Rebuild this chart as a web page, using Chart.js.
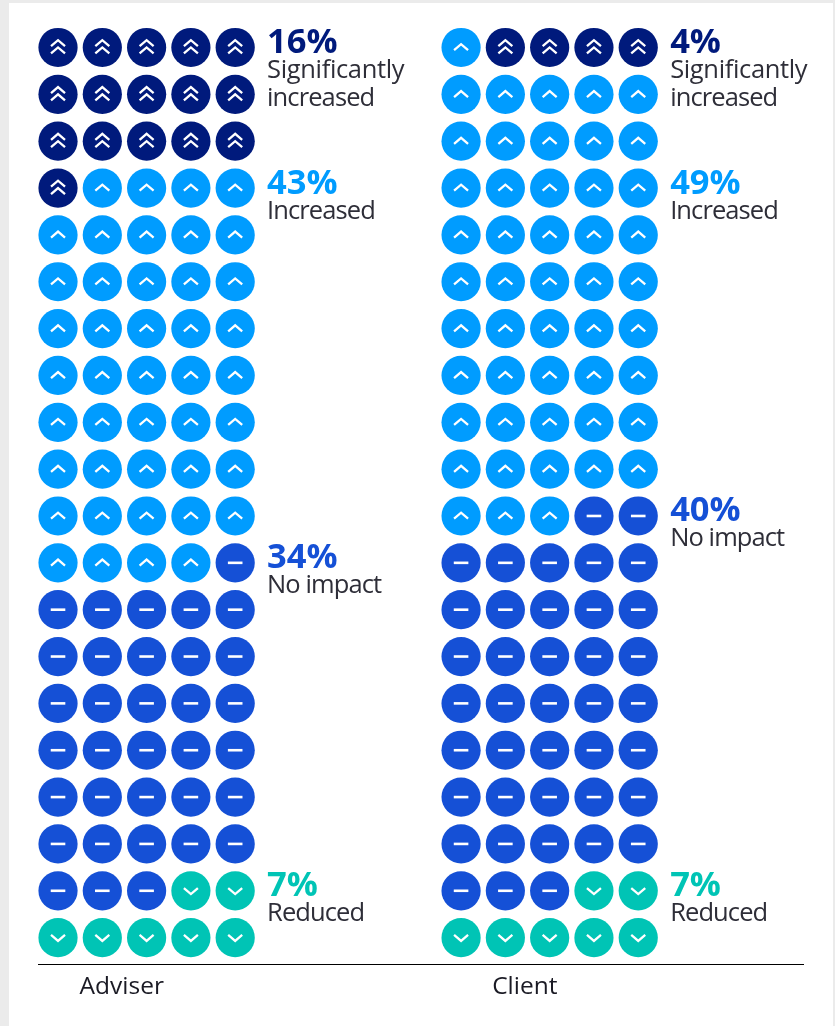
<!DOCTYPE html>
<html>
<head>
<meta charset="utf-8">
<style>
  html, body { margin: 0; padding: 0; background: #ebebeb; height: 100%; overflow: hidden; }
  #sheet { position: absolute; left: 9px; top: 3px; width: 824px; height: 1023px; background: #fff; }
  #wrap { position: absolute; left: 0; top: 0; width: 835px; height: 1026px; }
</style>
<script src="https://cdn.jsdelivr.net/npm/chart.js@4"></script>
</head>
<body>
<div id="sheet"></div>
<div id="wrap"><canvas id="chart"></canvas></div>
<script>
const categories = ['Significantly increased', 'Increased', 'No impact', 'Reduced'];
const groups = ['Adviser', 'Client'];
const adviserValues = [16, 43, 34, 7];
const clientValues = [4, 49, 40, 7];
// Client's top row opens with one "Increased" dot ahead of the dark ones.
const clientLeadingIncreased = 1;
const categoryColors = ['#001a7c', '#009cff', '#1550d6', '#00c4b5'];
const categoryGlyphs = ['double', 'up', 'dash', 'down'];
const adviserLabelRows = [0, 3, 11, 18];
const clientLabelRows = [0, 3, 10, 18];
const labelLines = [['Significantly', 'increased'], ['Increased'], ['No impact'], ['Reduced']];

const COLUMNS = 5;
const GROUP_OFFSET = 9.1;      // column units between the two waffles
const LABEL_COLUMN = 4.72;     // where the side labels start, relative to a waffle
const GROUP_LABEL_COLUMN = 1.44;

// Turn category counts into dot lists, filling left to right, top to bottom.
function fillOrder(values, leading) {
  const seq = [];
  if (leading) for (let i = 0; i < leading; i++) seq.push(1);
  values.forEach((v, c) => {
    const n = c === 1 ? v - (leading || 0) : v;
    for (let i = 0; i < n; i++) seq.push(c);
  });
  return seq;
}

const points = categories.map(() => []);
function place(seq, offset) {
  seq.forEach((c, i) => {
    points[c].push({ x: offset + (i % COLUMNS), y: Math.floor(i / COLUMNS) });
  });
}
place(fillOrder(adviserValues, 0), 0);
place(fillOrder(clientValues, clientLeadingIncreased), GROUP_OFFSET);

function drawGlyph(ctx, kind, x, y) {
  ctx.save();
  ctx.strokeStyle = '#fff';
  ctx.lineWidth = 2.3;
  ctx.lineCap = 'butt';
  ctx.lineJoin = 'miter';
  const chev = (cy, dir, hw, h) => {
    ctx.beginPath();
    ctx.moveTo(x - hw, cy + dir * h / 2);
    ctx.lineTo(x, cy - dir * h / 2);
    ctx.lineTo(x + hw, cy + dir * h / 2);
    ctx.stroke();
  };
  if (kind === 'double') { chev(y - 4.3, 1, 7, 6); chev(y + 3, 1, 7, 6); }
  if (kind === 'up') chev(y - 0.3, 1, 7, 6);
  if (kind === 'down') chev(y + 0.3, -1, 7, 6);
  if (kind === 'dash') {
    ctx.lineWidth = 2.6;
    ctx.beginPath();
    ctx.moveTo(x - 7.3, y);
    ctx.lineTo(x + 7.3, y);
    ctx.stroke();
  }
  ctx.restore();
}

const waffleExtras = {
  id: 'waffleExtras',
  afterDatasetsDraw(chart) {
    const { ctx, scales: { x, y } } = chart;
    // Glyphs sit on top of each dot, read from the drawn point elements.
    chart.data.datasets.forEach((ds, d) => {
      chart.getDatasetMeta(d).data.forEach(pt => drawGlyph(ctx, categoryGlyphs[d], pt.x, pt.y));
    });
    // Percentages and captions beside each waffle.
    const panels = [
      { values: adviserValues, rows: adviserLabelRows, offset: 0 },
      { values: clientValues, rows: clientLabelRows, offset: GROUP_OFFSET }
    ];
    ctx.save();
    ctx.textBaseline = 'alphabetic';
    ctx.textAlign = 'left';
    panels.forEach(p => {
      p.values.forEach((v, c) => {
        const px = x.getPixelForValue(p.offset + LABEL_COLUMN);
        const py = y.getPixelForValue(p.rows[c]);
        ctx.letterSpacing = '0px';
        ctx.font = 'bold 34.5px "Open Sans"';
        ctx.fillStyle = categoryColors[c];
        ctx.fillText(v + '%', px, py + 5.5);
        ctx.font = '25.5px "Open Sans"';
        ctx.fillStyle = '#2e2e38';
        labelLines[c].forEach((line, i) => {
          // The long word keeps a more open fit than the short captions.
          ctx.letterSpacing = line === 'Significantly' ? '-0.35px' : '-0.9px';
          ctx.fillText(line, px, py + 30.5 + i * 28);
        });
      });
    });
    ctx.restore();
  }
};

Chart.defaults.animation = false;
new Chart(document.getElementById('chart'), {
  type: 'scatter',
  data: {
    datasets: categories.map((name, c) => ({
      label: name,
      data: points[c],
      backgroundColor: categoryColors[c],
      borderWidth: 0,
      pointRadius: 19.6,
      pointHoverRadius: 19.6
    }))
  },
  options: {
    responsive: true,
    maintainAspectRatio: false,
    layout: { padding: { left: 38, right: 32, top: 0, bottom: 16.5 } },
    plugins: { legend: { display: false }, tooltip: { enabled: false } },
    scales: {
      x: {
        type: 'linear',
        min: -0.452,
        max: 16.82,
        grid: { display: false, drawTicks: false },
        border: { display: true, color: '#000', width: 1 },
        afterBuildTicks(axis) {
          axis.ticks = groups.map((g, i) => ({ value: GROUP_LABEL_COLUMN + i * GROUP_OFFSET }));
        },
        ticks: {
          autoSkip: false,
          maxRotation: 0,
          padding: 8,
          color: '#1a1a24',
          font: { family: '"Open Sans"', size: 24.5 },
          callback(value, index) { return groups[index]; }
        }
      },
      y: {
        type: 'linear',
        reverse: true,
        min: -0.595,
        max: 19.565,
        display: false
      }
    }
  },
  plugins: [waffleExtras]
});
</script>
</body>
</html>
